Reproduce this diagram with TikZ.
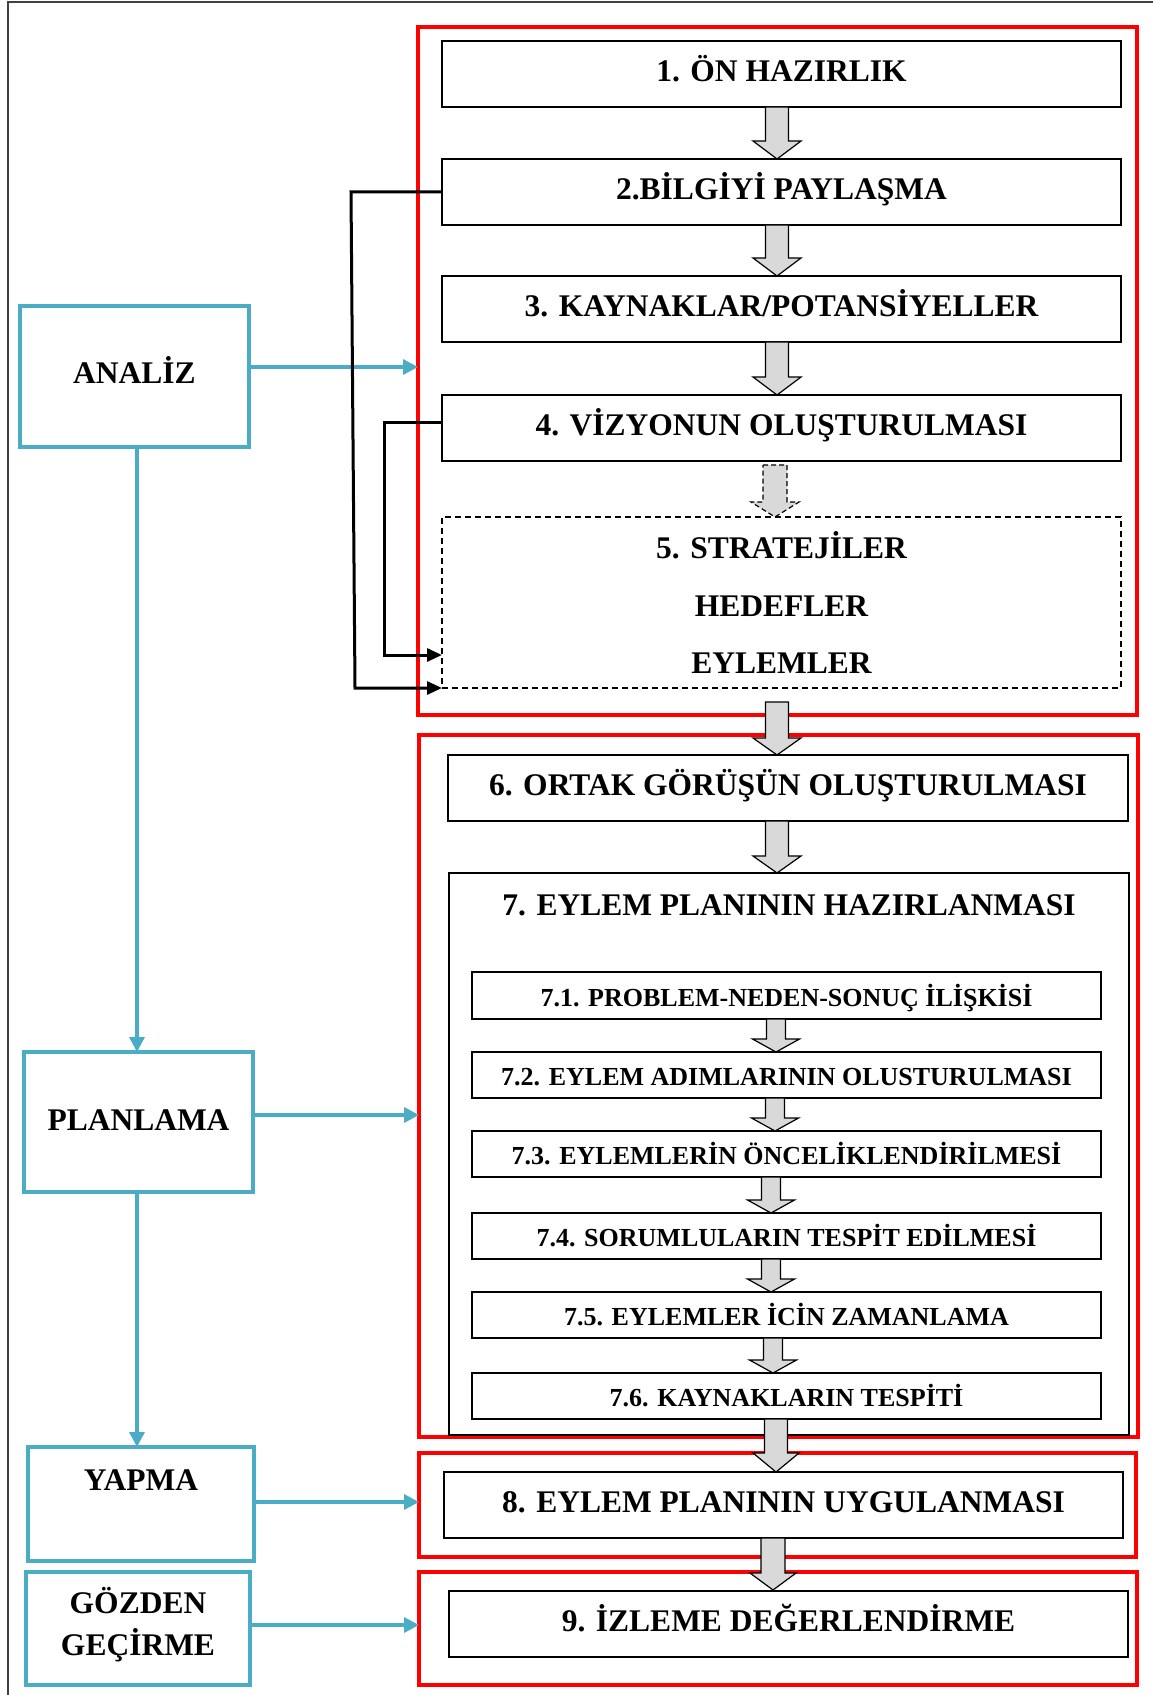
\documentclass[tikz,border=0pt]{standalone}
\usepackage{fontspec}
\setmainfont{Liberation Serif}
\usetikzlibrary{arrows.meta}
\definecolor{bluec}{HTML}{4BACC6}
\definecolor{redc}{HTML}{FF0000}
\definecolor{grayc}{HTML}{D9D9D9}
\definecolor{framec}{HTML}{404040}
% name, style, x1, y1, x2, y2, text
\newcommand{\mkbox}[7]{%
  \pgfmathsetmacro{\myBx}{(#3+#5)/2}%
  \pgfmathsetmacro{\myBy}{(#4+#6)/2}%
  \pgfmathsetmacro{\myBw}{(#5-#3)*0.5}%
  \pgfmathsetmacro{\myBh}{(#6-#4)*0.5}%
  \node[#2, minimum width=\myBw pt, minimum height=\myBh pt] (#1) at (\myBx,\myBy) {#7};}
% style, x, top, bottom, shaft width, head width, head height
\newcommand{\blockarr}[7]{%
  \draw[#1] ({#2-#5/2},#3) -- ({#2+#5/2},#3) -- ({#2+#5/2},{#4-#7}) -- ({#2+#6/2},{#4-#7})
    -- (#2,#4) -- ({#2-#6/2},{#4-#7}) -- ({#2-#5/2},{#4-#7}) -- cycle;}
\begin{document}
\begin{tikzpicture}[x=0.5pt,y=-0.5pt,
  mainfont/.style={font=\fontsize{15.75}{18}\selectfont\bfseries},
  subfont/.style={font=\fontsize{13}{15}\selectfont\bfseries},
  redbox/.style={draw=redc, line width=2pt, inner sep=0pt, outer sep=0pt},
  blackbox/.style={draw=black, line width=1pt, inner sep=0pt, outer sep=0pt, mainfont, text height=10.4pt, text depth=3pt},
  subbox/.style={draw=black, line width=1pt, inner sep=0pt, outer sep=0pt, subfont, text height=10.8pt, text depth=0pt},
  dashbox/.style={draw=black, line width=1pt, dash pattern=on 3pt off 2pt, inner sep=0pt, outer sep=0pt, align=center, font=\fontsize{15.75}{28.75}\selectfont\bfseries},
  bluebox/.style={draw=bluec, line width=1.75pt, inner sep=0pt, outer sep=0pt, mainfont, align=center},
  plaintext/.style={inner sep=0pt, mainfont},
  bluearrow/.style={draw=bluec, line width=1.65pt, -{Triangle[length=7.5pt,width=7.5pt]}},
  blackarrow/.style={draw=black, line width=1.5pt, -{Triangle[length=7.5pt,width=6.5pt]}},
  blockarrow/.style={draw=black, line width=0.6pt, fill=grayc, line join=miter},
  dashblockarrow/.style={blockarrow, dash pattern=on 2.5pt off 1.5pt},
]
\useasboundingbox (0,0) rectangle (1153,1695);
% outer frame (top and left)
\draw[framec, line width=0.75pt] (8,1695) -- (8,2) -- (1153,2);

% red group boxes
\mkbox{r1}{redbox}{418}{27}{1137}{715}{}
\mkbox{r2}{redbox}{419}{735}{1138}{1437}{}
\mkbox{r3}{redbox}{419}{1453}{1136}{1557}{}
\mkbox{r4}{redbox}{419}{1572}{1137}{1685}{}

% main boxes
\mkbox{b1}{blackbox}{442}{41}{1121}{107}{1. ÖN HAZIRLIK}
\mkbox{b2}{blackbox}{442}{159}{1121}{225}{2.BİLGİYİ PAYLAŞMA}
\mkbox{b3}{blackbox}{442}{276}{1121}{342}{3. KAYNAKLAR/POTANSİYELLER}
\mkbox{b4}{blackbox}{442}{395}{1121}{461}{4. VİZYONUN OLUŞTURULMASI}
\mkbox{b5}{dashbox}{442}{517}{1121}{688}{5. STRATEJİLER\\HEDEFLER\\EYLEMLER}
\mkbox{b6}{blackbox}{448}{755}{1128}{821}{6. ORTAK GÖRÜŞÜN OLUŞTURULMASI}
\mkbox{b7}{blackbox}{449}{873}{1129}{1435}{}
\node[plaintext] (b7title) at (789,905) {7. EYLEM PLANININ HAZIRLANMASI};
\mkbox{s1}{subbox}{472}{972}{1101}{1019}{7.1. PROBLEM-NEDEN-SONUÇ İLİŞKİSİ}
\mkbox{s2}{subbox}{472}{1052}{1101}{1098}{7.2. EYLEM ADIMLARININ OLUSTURULMASI}
\mkbox{s3}{subbox}{472}{1131}{1101}{1177}{7.3. EYLEMLERİN ÖNCELİKLENDİRİLMESİ}
\mkbox{s4}{subbox}{472}{1213}{1101}{1259}{7.4. SORUMLULARIN TESPİT EDİLMESİ}
\mkbox{s5}{subbox}{472}{1292}{1101}{1338}{7.5. EYLEMLER İCİN ZAMANLAMA}
\mkbox{s6}{subbox}{472}{1373}{1101}{1419}{7.6. KAYNAKLARIN TESPİTİ}
\mkbox{b8}{blackbox}{444}{1472}{1123}{1538}{8. EYLEM PLANININ UYGULANMASI}
\mkbox{b9}{blackbox}{449}{1591}{1128}{1657}{9. İZLEME DEĞERLENDİRME}

% left phase boxes
\mkbox{analiz}{bluebox, text height=10.4pt, text depth=3pt}{20}{306}{249}{447}{ANALİZ}
\mkbox{planlama}{bluebox, text height=10.4pt, text depth=2pt}{24}{1052}{253}{1192}{PLANLAMA}
\mkbox{yapma}{bluebox}{28}{1447}{254}{1561}{}
\node[plaintext] (yapmatext) at (141,1480) {YAPMA};
\mkbox{gozden}{bluebox}{26}{1572}{250}{1685}{}
\node[plaintext, align=center, font=\fontsize{15.75}{21}\selectfont\bfseries] (gozdentext) at (138,1625) {GÖZDEN\\GEÇİRME};

% blue connectors
\draw[bluearrow] (analiz.east |- 0,367) -- (r1.west |- 0,367);
\draw[bluearrow] (planlama.east |- 0,1115) -- (r2.west |- 0,1115);
\draw[bluearrow] (yapma.east |- 0,1502) -- (r3.west |- 0,1502);
\draw[bluearrow] (gozden.east |- 0,1625) -- (r4.west |- 0,1625);
\draw[bluearrow] (analiz.south -| 137,0) -- (planlama.north -| 137,0);
\draw[bluearrow] (planlama.south -| 137,0) -- (yapma.north -| 137,0);

% black feedback connectors
\draw[blackarrow] (b2.west) -- (351,192) -- (355,688) -- (b5.south west);
\draw[blackarrow] (b4.west |- 0,423) -- (384,423) -- (384,655) -- (b5.west |- 0,655);

% block arrows
\blockarr{blockarrow}{777}{107}{159}{23}{48}{18}
\blockarr{blockarrow}{777}{225}{276}{23}{48}{18}
\blockarr{blockarrow}{777}{342}{395}{23}{48}{18}
\blockarr{dashblockarrow}{775}{465}{517}{24}{48}{15}
\blockarr{blockarrow}{777}{702}{755}{23}{48}{17}
\blockarr{blockarrow}{777}{821}{873}{23}{48}{17}
\blockarr{blockarrow}{776}{1019}{1052}{19}{47}{13}
\blockarr{blockarrow}{775}{1098}{1131}{19}{47}{13}
\blockarr{blockarrow}{771}{1177}{1213}{19}{47}{13}
\blockarr{blockarrow}{771}{1259}{1292}{19}{47}{13}
\blockarr{blockarrow}{773}{1338}{1373}{19}{47}{13}
\blockarr{blockarrow}{776}{1419}{1472}{23}{46}{19}
\blockarr{blockarrow}{773}{1538}{1590}{24}{46}{17}
\end{tikzpicture}
\end{document}
